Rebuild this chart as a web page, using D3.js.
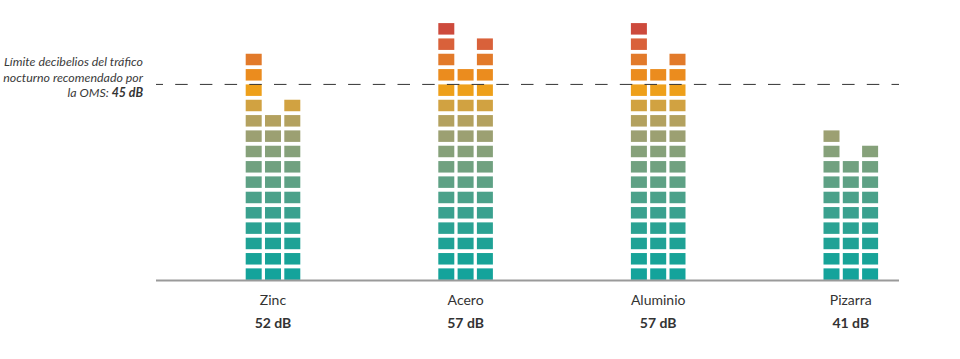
<!DOCTYPE html>
<html>
<head>
<meta charset="utf-8">
<script src="https://cdn.jsdelivr.net/npm/d3@7"></script>
<style>
  html, body { margin: 0; padding: 0; background: #fff; }
  svg { display: block; }
  text { font-family: Lato, "Open Sans", sans-serif; }
</style>
</head>
<body>
<svg id="chart" width="960" height="359"></svg>
<script>
// ---- data ----
const categories = ["Zinc", "Acero", "Aluminio", "Pizarra"];
const decibels = [52, 57, 57, 41];
// number of stacked cells in each of the three columns per material
const columnCells = [
  [15, 11, 12],
  [17, 14, 16],
  [17, 14, 15],
  [10, 8, 9]
];
const maxCells = 17;
const limitDb = 45;
const limitCells = 13;
const rowColors = [
  "#14a39b", "#17a398", "#1fa296", "#2ba293", "#3aa18f", "#4ba18a",
  "#5ea185", "#71a180", "#86a17a", "#9ca072", "#b3a15f", "#d1a241",
  "#eea01a", "#eb8c1e", "#e27a2a", "#d9613a", "#cd4a3c"
];
const annotationLines = ["Límite decibelios del tráfico", "nocturno recomendado por"];

// ---- layout ----
const svg = d3.select("#chart");
const baseY = 280.5;
const axisX0 = 156, axisX1 = 899;

const x = d3.scaleBand().domain(categories).range([176.7, 947.1]).padding(0);
const y = d3.scaleLinear().domain([0, maxCells]).range([283.7, 283.7 - maxCells * 15.33]);
const cellH = 11.5;

const color = d3.scaleOrdinal().domain(d3.range(rowColors.length)).range(rowColors);

// cells
categories.forEach((cat, gi) => {
  const cx = x(cat) + x.bandwidth() / 2;
  const inner = d3.scaleBand().domain([0, 1, 2]).range([cx - 27.3, cx + 27.3]).paddingInner(0.171).paddingOuter(0);
  const g = svg.append("g").attr("class", "group");
  columnCells[gi].forEach((n, ci) => {
    g.selectAll(null)
      .data(d3.range(n))
      .join("rect")
      .attr("x", inner(ci))
      .attr("width", inner.bandwidth())
      .attr("y", k => y(k + 1))
      .attr("height", cellH)
      .attr("fill", k => color(k));
  });
  svg.append("text")
    .attr("x", cx).attr("y", 305)
    .attr("text-anchor", "middle")
    .attr("font-size", 14)
    .attr("fill", "#333")
    .text(cat);
  svg.append("text")
    .attr("x", cx).attr("y", 328)
    .attr("text-anchor", "middle")
    .attr("font-size", 14)
    .attr("font-weight", "bold")
    .attr("fill", "#333")
    .text(decibels[gi] + " dB");
});

// axis baseline
svg.append("line")
  .attr("x1", axisX0).attr("x2", axisX1)
  .attr("y1", baseY).attr("y2", baseY)
  .attr("stroke", "#9a9a9a").attr("stroke-width", 2);

// limit dashed line
svg.append("line")
  .attr("x1", axisX0).attr("x2", axisX1)
  .attr("y1", y(limitCells)).attr("y2", y(limitCells))
  .attr("stroke", "#333").attr("stroke-width", 1)
  .attr("stroke-dasharray", "12.5,12.2")
  .attr("stroke-dashoffset", 5.5);

// annotation
const ann = svg.append("text")
  .attr("text-anchor", "end")
  .attr("font-size", 12.4)
  .attr("font-style", "italic")
  .attr("fill", "#3a3a3a");
annotationLines.forEach((t, i) => {
  ann.append("tspan").attr("x", 143).attr("y", 66 + i * 15.5).text(t);
});
const last = ann.append("tspan").attr("x", 143).attr("y", 66 + 2 * 15.5);
last.append("tspan").text("la OMS: ");
last.append("tspan").attr("font-weight", "bold").attr("fill", "#333").text(limitDb + " dB");
</script>
</body>
</html>
